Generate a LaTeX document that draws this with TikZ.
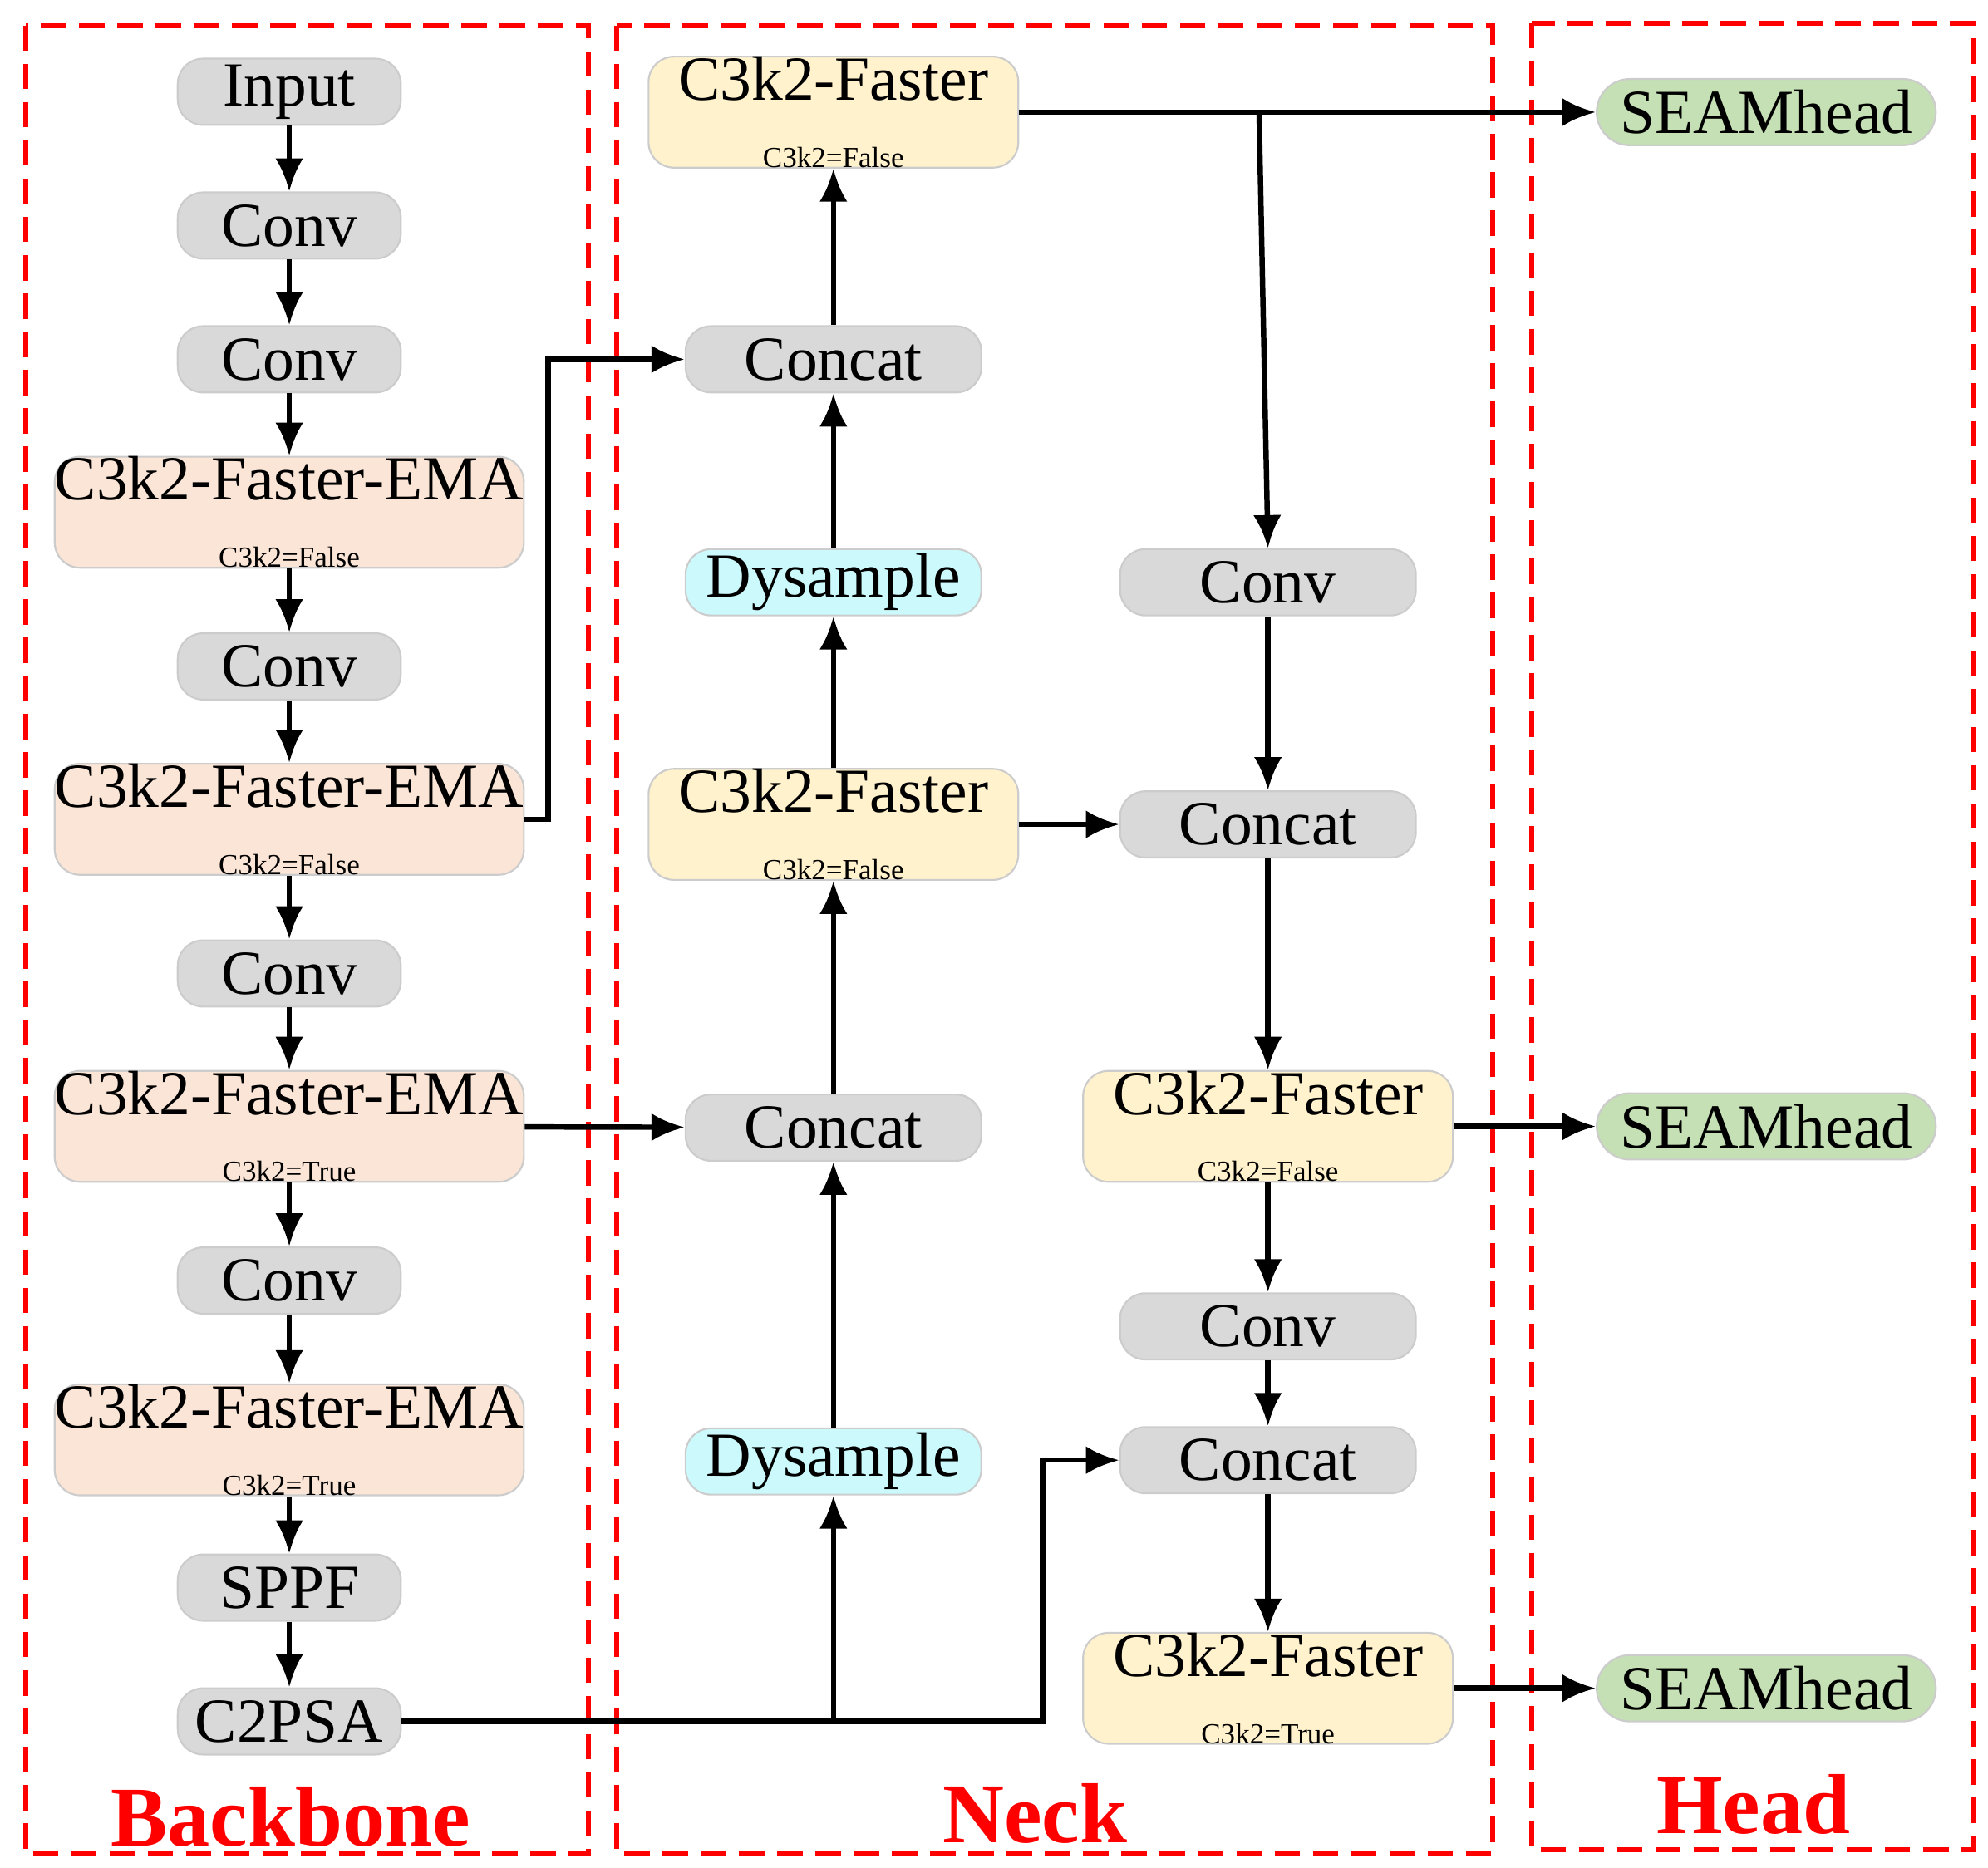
\documentclass[tikz,border=0pt]{standalone}
\usepackage{fontspec}
\setmainfont{Liberation Serif}
\usetikzlibrary{positioning}
\usetikzlibrary{shapes, arrows, arrows.meta}
\definecolor{grayfill}{HTML}{D9D9D9}
\definecolor{emafill}{HTML}{FBE5D6}
\definecolor{fastfill}{HTML}{FFF2CC}
\definecolor{dysfill}{HTML}{CCFAFC}
\definecolor{headfill}{HTML}{C5E0B4}
\tikzstyle{blk} = [rectangle, draw=black!20, fill=grayfill, rounded corners=0.2cm,
  minimum height=0.52cm, inner sep=0pt, font=\fontsize{14}{14}\selectfont, align=center]
\tikzstyle{conv} = [blk, minimum width=1.75cm]
\tikzstyle{cat} = [blk, minimum width=2.32cm]
\tikzstyle{ema} = [blk, fill=emafill, minimum width=3.68cm, minimum height=0.84cm]
\tikzstyle{fast} = [blk, fill=fastfill, minimum width=2.9cm, minimum height=0.84cm]
\tikzstyle{dys} = [blk, fill=dysfill, minimum width=2.32cm]
\tikzstyle{seam} = [blk, fill=headfill, minimum width=2.66cm, rounded corners=0.26cm]
\tikzstyle{line} = [draw, line width=1.2pt, -{Latex[length=2.6mm,width=2.2mm]}]
\tikzstyle{frame} = [draw=red, dash pattern=on 2mm off 1mm, line width=1.1pt]
\tikzstyle{title} = [text=red, font=\fontsize{19}{19}\selectfont\bfseries]
\newcommand{\sm}[1]{\\[1pt]{\fontsize{6.5}{6.5}\selectfont #1}}

\begin{document}
\begin{tikzpicture}[x=0.01cm, y=-0.01cm]
	\useasboundingbox (0,0) rectangle (1560,1466);
	
	% Frames
	\draw [frame] (20,20) rectangle (462,1455);
	\draw [frame] (484,20) rectangle (1171,1455);
	\draw [frame] (1202,18) rectangle (1548,1452);
	\node [title] (Backbone) at (228,1426) {Backbone};
	\node [title] (Neck) at (812,1423) {Neck};
	\node [title] (Head) at (1376,1416) {Head};
	
	% Backbone
	\node [conv] (Input) at (227,72) {Input};
	\node [conv] (Conv1) at (227,177) {Conv};
	\node [conv] (Conv2) at (227,282) {Conv};
	\node [ema] (EMA1) at (227,402) {C3k2-Faster-EMA\sm{C3k2=False}};
	\node [conv] (Conv3) at (227,523) {Conv};
	\node [ema] (EMA2) at (227,643) {C3k2-Faster-EMA\sm{C3k2=False}};
	\node [conv] (Conv4) at (227,764) {Conv};
	\node [ema] (EMA3) at (227,884) {C3k2-Faster-EMA\sm{C3k2=True}};
	\node [conv] (Conv5) at (227,1005) {Conv};
	\node [ema] (EMA4) at (227,1130) {C3k2-Faster-EMA\sm{C3k2=True}};
	\node [conv] (SPPF) at (227,1246) {SPPF};
	\node [conv] (C2PSA) at (227,1351) {C2PSA};
	
	% Neck
	\node [fast] (Fast1) at (654,88) {C3k2-Faster\sm{C3k2=False}};
	\node [cat] (Cat1) at (654,282) {Concat};
	\node [dys] (Dys1) at (654,457) {Dysample};
	\node [fast] (Fast2) at (654,647) {C3k2-Faster\sm{C3k2=False}};
	\node [cat] (Cat2) at (654,885) {Concat};
	\node [dys] (Dys2) at (654,1147) {Dysample};
	\node [cat] (Conv6) at (995,457) {Conv};
	\node [cat] (Cat3) at (995,647) {Concat};
	\node [fast] (Fast3) at (995,884) {C3k2-Faster\sm{C3k2=False}};
	\node [cat] (Conv7) at (995,1041) {Conv};
	\node [cat] (Cat4) at (995,1146) {Concat};
	\node [fast] (Fast4) at (995,1325) {C3k2-Faster\sm{C3k2=True}};
	
	% Head
	\node [seam] (Head1) at (1386,88) {SEAMhead};
	\node [seam] (Head2) at (1386,884) {SEAMhead};
	\node [seam] (Head3) at (1386,1325) {SEAMhead};
	\coordinate (Split) at (988,88);
	\coordinate (Fork) at (654,1351);
	
	% Draw edges
	\foreach \a/\b in {Input/Conv1, Conv1/Conv2, Conv2/EMA1, EMA1/Conv3, Conv3/EMA2,
	  EMA2/Conv4, Conv4/EMA3, EMA3/Conv5, Conv5/EMA4, EMA4/SPPF, SPPF/C2PSA,
	  Dys2/Cat2, Cat2/Fast2, Fast2/Dys1, Dys1/Cat1, Cat1/Fast1,
	  Conv6/Cat3, Cat3/Fast3, Fast3/Conv7, Conv7/Cat4, Cat4/Fast4}
	  \path [line] (\a) -- (\b);
	\path [line] (EMA2.east) -- (430,643) |- (Cat1.west);
	\path [line] (EMA3) -- (Cat2);
	\path [line] (Fast2) -- (Cat3);
	\path [line] (C2PSA.east) -- (Fork) -- (Dys2.south);
	\path [line] (Fork) -- (818,1351) |- (Cat4.west);
	\path [line] (Fast1.east |- Head1) -- (Head1);
	\path [line] (Split) -- (Conv6.north);
	\path [line] (Fast3) -- (Head2);
	\path [line] (Fast4) -- (Head3);
	
\end{tikzpicture}
\end{document}
